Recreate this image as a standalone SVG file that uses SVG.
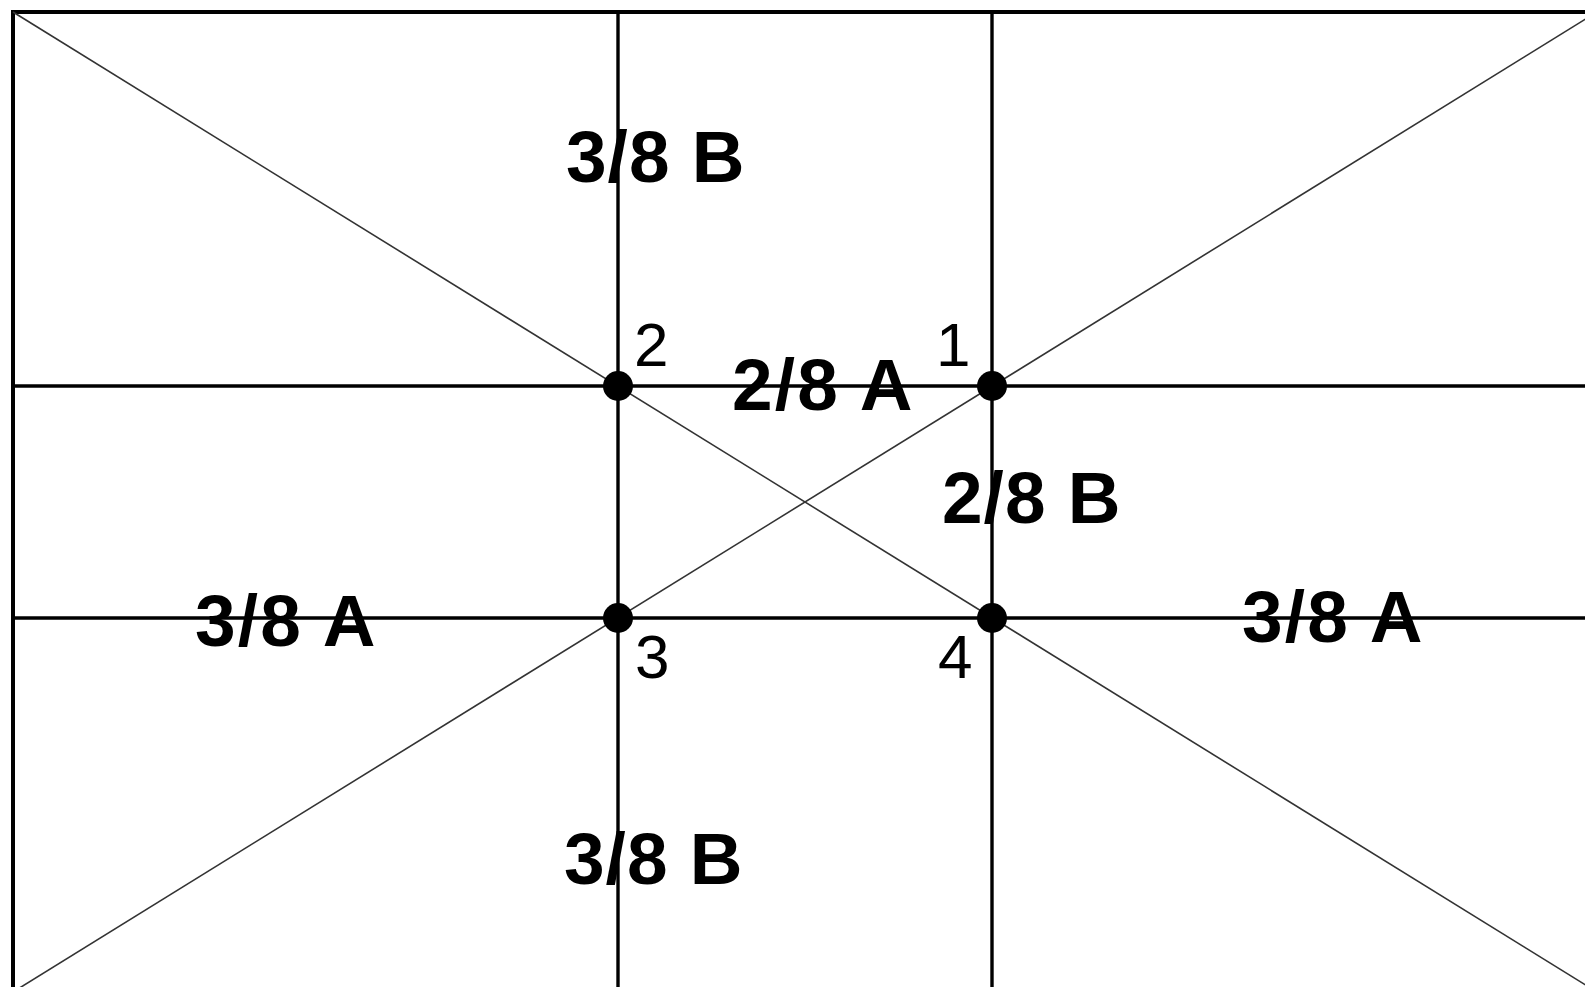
<svg xmlns="http://www.w3.org/2000/svg" width="1585" height="987" viewBox="0 0 1585 987">
<style>
.border{fill:none;stroke:#000;stroke-width:4}
.grid{stroke:#000;stroke-width:3.4}
.diag{stroke:#333;stroke-width:1.6}
.dot{fill:#000}
.lbl{font-family:"Liberation Sans",Arial,sans-serif;font-weight:bold;font-size:73px;fill:#000}
.lb{letter-spacing:1px}
.la{letter-spacing:2.2px}
.num{font-family:"Liberation Sans",Arial,sans-serif;font-size:62px;fill:#000}
</style>
<rect width="1585" height="987" fill="#fff"/>
<g id="connectors">
<rect class="border" x="13" y="12" width="1584" height="980"/>
<line class="grid" x1="618" y1="12" x2="618" y2="992"/>
<line class="grid" x1="992" y1="12" x2="992" y2="992"/>
<line class="grid" x1="13" y1="386" x2="1597" y2="386"/>
<line class="grid" x1="13" y1="618" x2="1597" y2="618"/>
<line class="diag" x1="13" y1="12" x2="1597" y2="992"/>
<line class="diag" x1="13" y1="992" x2="1597" y2="12"/>
</g>
<g id="point1"><circle class="dot" cx="992" cy="386" r="15"/><text class="num" x="936" y="366">1</text></g>
<g id="point2"><circle class="dot" cx="618" cy="386" r="15"/><text class="num" x="634" y="366">2</text></g>
<g id="point3"><circle class="dot" cx="618" cy="618" r="15"/><text class="num" x="635" y="678">3</text></g>
<g id="point4"><circle class="dot" cx="992" cy="618" r="15"/><text class="num" x="938" y="678">4</text></g>
<g id="labels">
<text class="lbl lb" x="566" y="182">3/8 B</text>
<text class="lbl la" x="732" y="410">2/8 A</text>
<text class="lbl lb" x="942" y="523">2/8 B</text>
<text class="lbl la" x="195" y="646">3/8 A</text>
<text class="lbl la" x="1242" y="642">3/8 A</text>
<text class="lbl lb" x="564" y="884">3/8 B</text>
</g>
</svg>
